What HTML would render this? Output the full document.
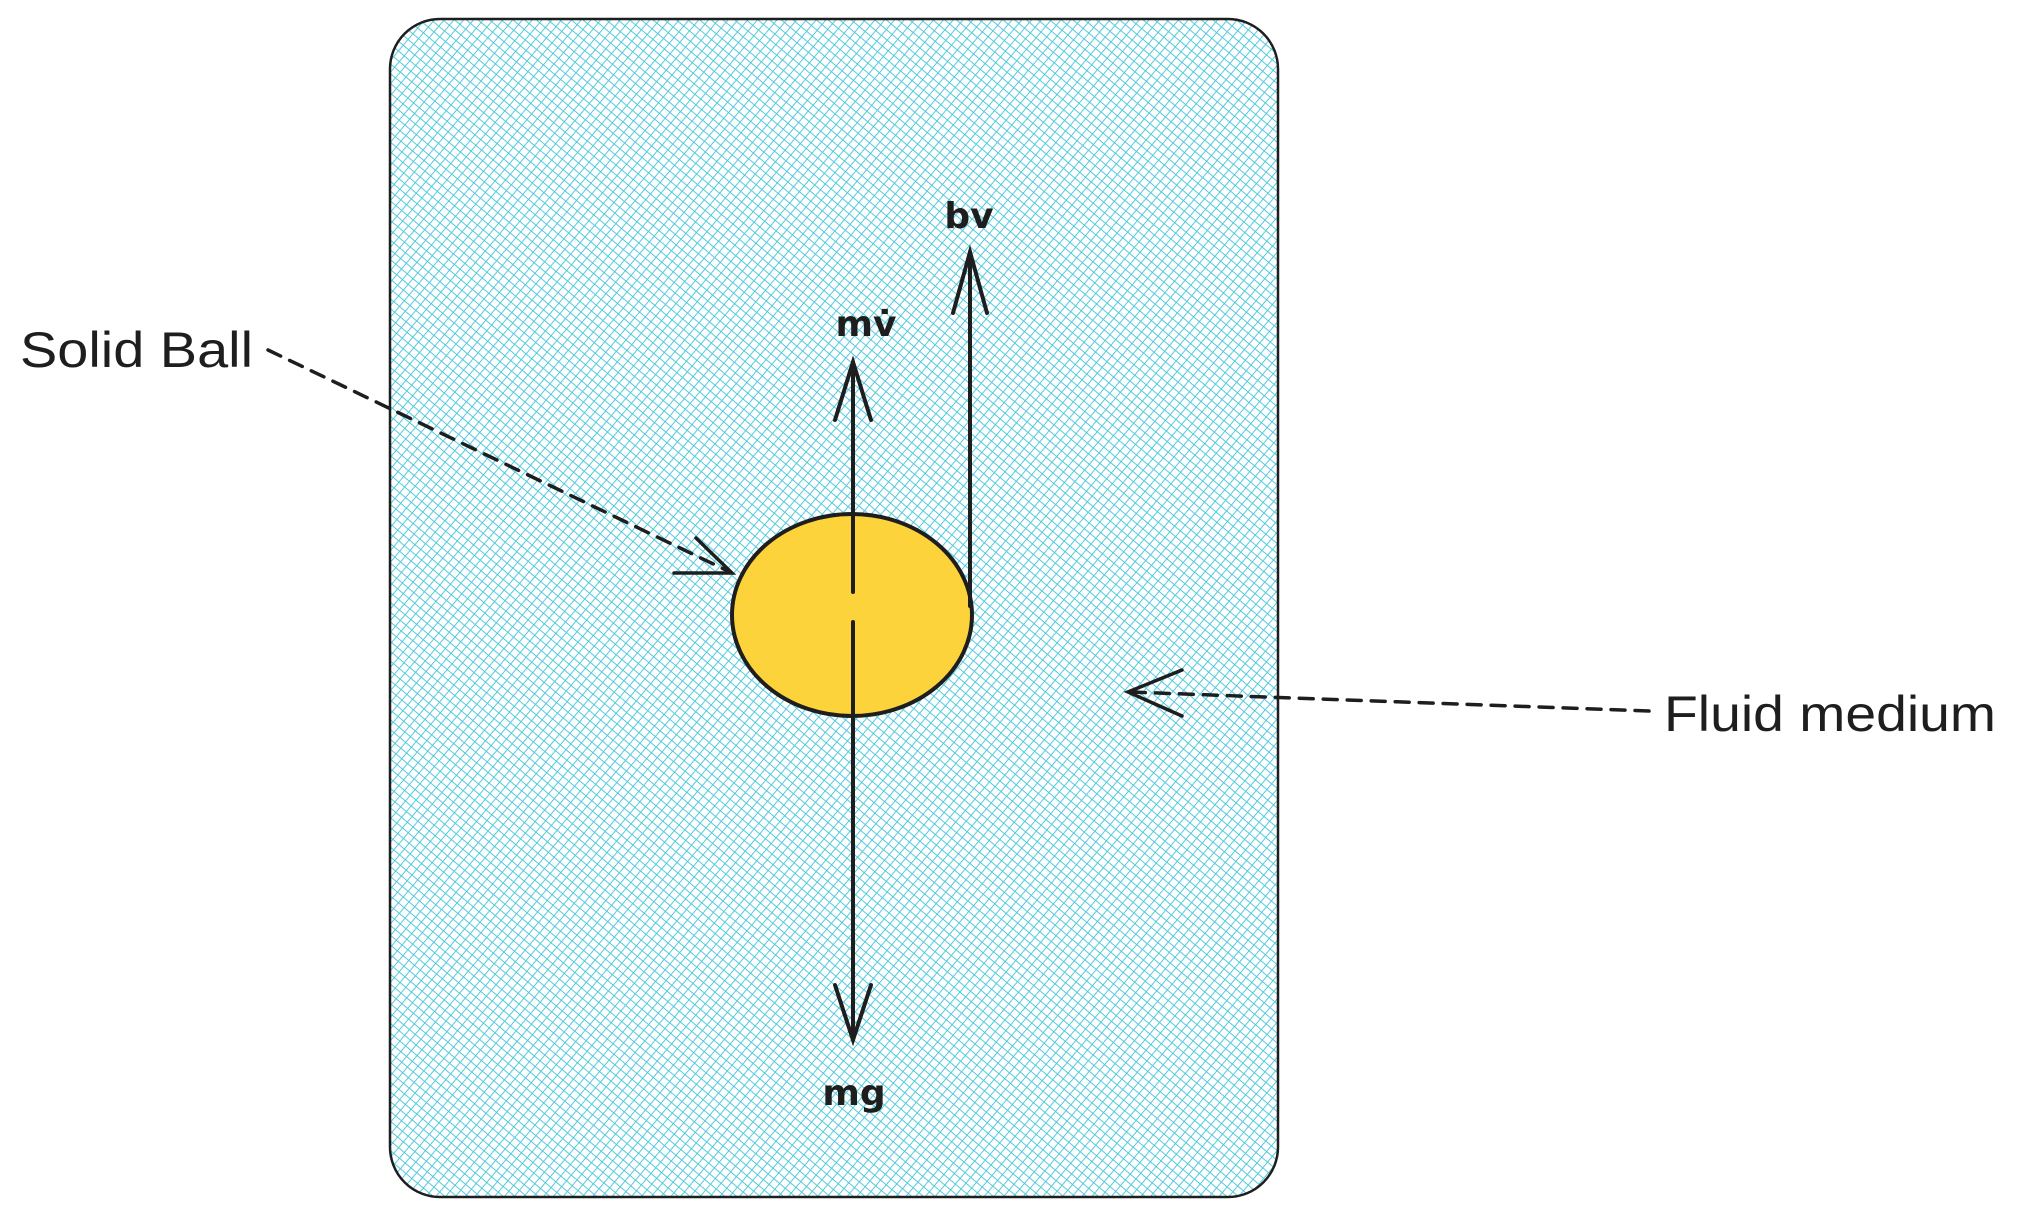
<!DOCTYPE html>
<html><head><meta charset="utf-8"><style>
html,body{margin:0;padding:0;background:#fff;}
svg{display:block;}
</style></head><body>
<svg width="2018" height="1216" viewBox="0 0 2018 1216">
<defs>
<pattern id="hatch" width="7.5" height="7.5" patternUnits="userSpaceOnUse" patternTransform="rotate(40)">
<line x1="0" y1="0" x2="0" y2="7.5" stroke="#4cc8dc" stroke-width="1.9"/>
<line x1="0" y1="0" x2="7.5" y2="0" stroke="#4cc8dc" stroke-width="1.9"/>
</pattern>
</defs>
<g>
<rect x="390" y="19" width="888" height="1178" rx="50" fill="#fff"/>
<rect x="390" y="19" width="888" height="1178" rx="50" fill="url(#hatch)" stroke="#1e1e1e" stroke-width="2.5"/>
</g>
<g>
<ellipse cx="852" cy="615" rx="120" ry="101" fill="#fcd33a" stroke="#1e1e1e" stroke-width="4"/>
</g>
<g stroke="#1e1e1e" stroke-width="4" fill="none" stroke-linecap="round">
<g>
<line x1="853" y1="592" x2="853" y2="362"/>
<polyline points="835,420 853,362 871,420"/>
</g>
<g>
<line x1="853" y1="622" x2="853" y2="1040"/>
<polyline points="835,985 853,1040 871,985"/>
</g>
<g>
<line x1="970" y1="606" x2="970" y2="252"/>
<polyline points="953,313 970,252 987,313"/>
</g>
<g stroke-width="3.5">
<line x1="268" y1="350" x2="730" y2="572" stroke-dasharray="14 10"/>
<polyline points="696,538 732,573 674,573"/>
</g>
<g stroke-width="3.5">
<line x1="1649" y1="711" x2="1130" y2="692" stroke-dasharray="14 10"/>
<polyline points="1182,670 1128,692 1182,716"/>
</g>
</g>
<g font-family="'Comic Sans MS','DejaVu Sans',sans-serif" font-weight="bold" fill="#1e1e1e" font-size="36" text-anchor="middle">
<text x="969" y="228">bv</text>
<text x="866" y="336">mv̇</text>
<text x="854" y="1105">mg</text>
</g>
<g font-family="'Liberation Sans',sans-serif" fill="#1e1e1e" font-size="50">
<text x="20" y="367" textLength="233" lengthAdjust="spacingAndGlyphs">Solid Ball</text>
<text x="1664" y="731" textLength="332" lengthAdjust="spacingAndGlyphs">Fluid medium</text>
</g>
</svg>
</body></html>
